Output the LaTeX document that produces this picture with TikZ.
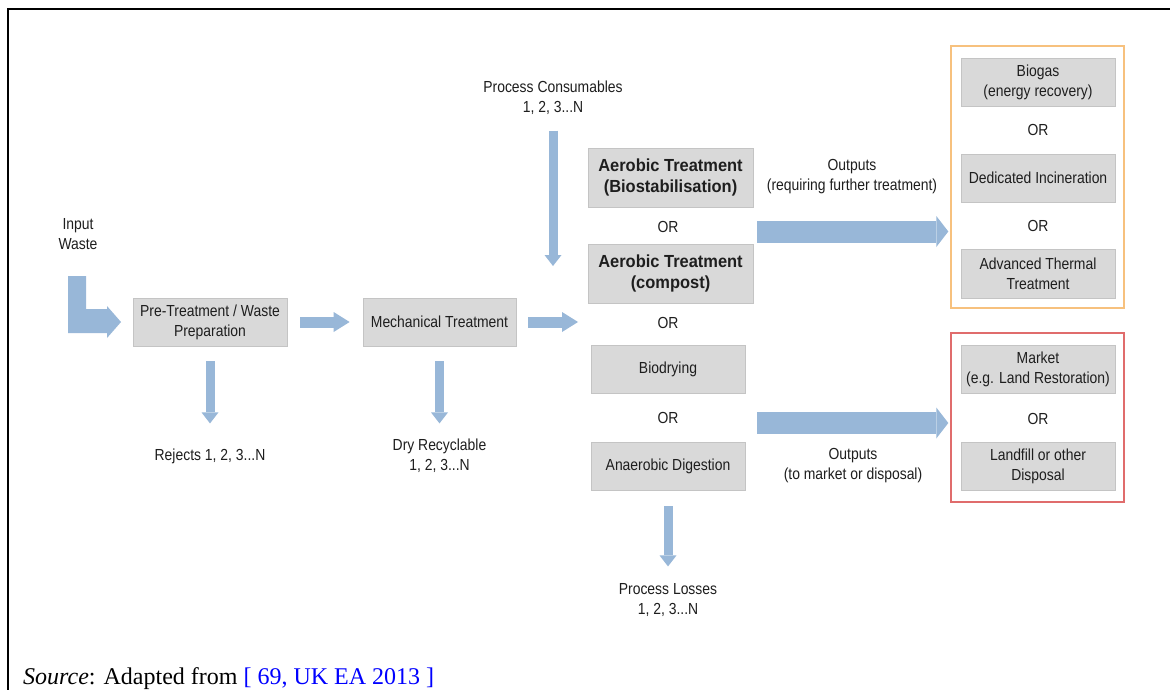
\documentclass[tikz,border=0pt]{standalone}
\usepackage{fontspec}
\setmainfont{Liberation Serif}
\newfontfamily\rsans[FakeStretch=0.87]{Liberation Sans}
\newfontfamily\bsans[FakeStretch=0.94]{Liberation Sans}
\usetikzlibrary{arrows.meta,calc}
\definecolor{boxfill}{RGB}{217,217,217}
\definecolor{boxline}{RGB}{196,196,196}
\definecolor{arrowc}{RGB}{152,183,216}
\definecolor{txt}{RGB}{30,30,30}
\definecolor{orangeframe}{RGB}{247,193,126}
\definecolor{redframe}{RGB}{224,108,108}
\definecolor{linkblue}{RGB}{0,0,255}
\begin{document}
\begin{tikzpicture}[x=1pt,y=-1pt,
  lab/.style={font=\rsans\fontsize{16}{20}\selectfont, text=txt, align=center, inner sep=0pt},
  boldlab/.style={font=\bsans\bfseries\fontsize{17.5}{21}\selectfont, text=txt, align=center, inner sep=0pt},
  box/.style={lab, draw=boxline, fill=boxfill, line width=0.8pt, minimum width=154pt, minimum height=48pt},
  bigbox/.style={box, boldlab, minimum width=165pt, minimum height=59pt},
  frame/.style={line width=1.4pt, minimum width=173pt, inner sep=0pt},
  harrow/.style={draw=arrowc, line width=11pt, -{Triangle[length=16pt,width=20pt,line width=0pt]}},
  varrow/.style={draw=arrowc, line width=9pt, -{Triangle[length=11pt,width=17pt,line width=0pt]}},
  barrow/.style={draw=arrowc, line width=22pt, -{Triangle[length=12pt,width=31pt,line width=0pt]}}
]
\useasboundingbox (0,0) rectangle (1170,690);
\fill[white] (0,0) rectangle (1170,690);
% outer frame
\draw[line width=2pt] (8.3,700) -- (8.3,9.2) -- (1180,9.2);

% left chain
\node[lab] (input) at (78,234) {Input\\Waste};
\node[box] (pre) at (210,322) {Pre-Treatment / Waste\\Preparation};
\node[box, minimum width=153pt] (mech) at (439.5,322) {Mechanical Treatment};
\node[lab] (rej) at (210,456) {Rejects 1, 2, 3...N};
\node[lab] (dry) at (439.5,456) {Dry Recyclable\\1, 2, 3...N};

% treatment column
\node[lab] (pc) at (553,97.5) {Process Consumables\\1, 2, 3...N};
\node[bigbox] (aerb) at (670.5,177.5) {Aerobic Treatment\\(Biostabilisation)};
\node[lab] (or1) at (668,227) {OR};
\node[bigbox] (aerc) at (670.5,273.5) {Aerobic Treatment\\(compost)};
\node[lab] (or2) at (668,323) {OR};
\node[box] (biod) at (668,369) {Biodrying};
\node[lab] (or3) at (668,418) {OR};
\node[box] (anae) at (668,466) {Anaerobic Digestion};
\node[lab] (loss) at (668,600) {Process Losses\\1, 2, 3...N};
\coordinate (grp) at (588,322);

% outputs labels
\node[lab] (outu) at (852,177) {Outputs\\(requiring further treatment)};
\node[lab] (outl) at (853,466) {Outputs\\(to market or disposal)};

% right groups
\node[frame, draw=orangeframe, minimum height=262pt] (ofr) at (1037.5,177) {};
\node[box] (biogas) at (1038,82) {Biogas\\(energy recovery)};
\node[lab] (or4) at (1038,130) {OR};
\node[box] (inc) at (1038,178) {Dedicated Incineration};
\node[lab] (or5) at (1038,226) {OR};
\node[box, minimum height=49pt] (adv) at (1038,273.5) {Advanced Thermal\\Treatment};

\node[frame, draw=redframe, minimum height=169pt] (rfr) at (1037.5,417.5) {};
\node[box] (market) at (1038,369) {Market\\(e.g. Land Restoration)};
\node[lab] (or6) at (1038,419) {OR};
\node[box] (land) at (1038,466) {Landfill or other\\Disposal};

% arrows
\fill[arrowc] (68,276) -- (86,276) -- (86,309) -- (107,309) -- (107,306) -- (121,322)
  -- (107,338) -- (107,333) -- (68,333) -- cycle;
\draw[harrow] ([xshift=13pt]pre.east) -- ([xshift=-13pt]mech.west);
\draw[harrow] ([xshift=12pt]mech.east) -- ([xshift=-10pt]grp);
\draw[varrow] ([yshift=-15pt]pre.south) -- ([yshift=-77pt]pre.south);
\draw[varrow] ([yshift=-15pt]mech.south) -- ([yshift=-77pt]mech.south);
\coordinate (pcend) at (553,266);
\draw[varrow] ([yshift=-16pt]pc.south) -- (pcend);
\draw[varrow] ([yshift=-16pt]anae.south) -- ([yshift=-76pt]anae.south);
\coordinate (ua) at (757,231.5);
\draw[barrow, shorten >=2pt] (ua) -- (ua -| ofr.west);
\coordinate (la) at (757,423);
\draw[barrow, shorten >=2pt] (la) -- (la -| rfr.west);

% source line
\node[anchor=base west, inner sep=0pt, font=\fontsize{24}{28}\selectfont] (src) at (23,684.5)
  {\textit{Source}: Adapted from \textcolor{linkblue}{[ 69, UK EA 2013 ]}};
\end{tikzpicture}
\end{document}
